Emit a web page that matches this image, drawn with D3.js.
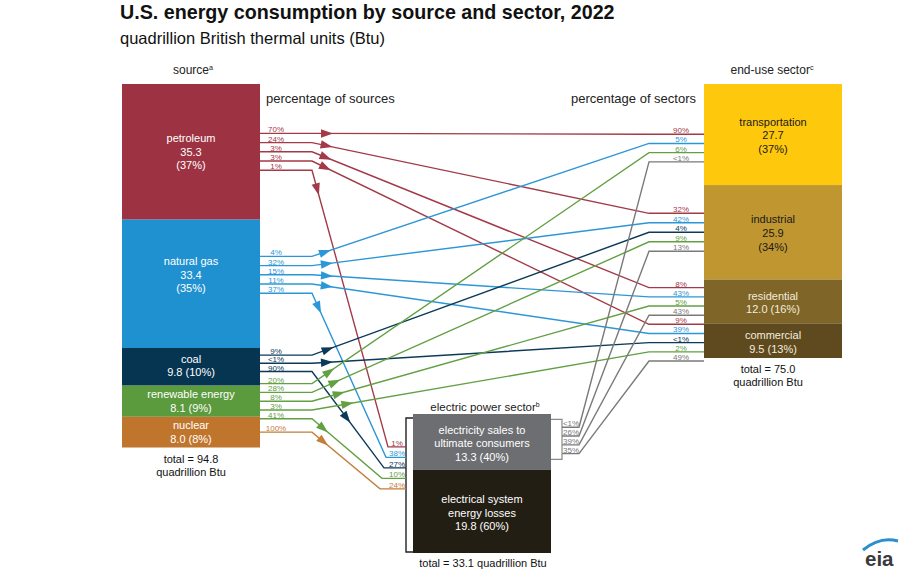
<!DOCTYPE html>
<html><head><meta charset="utf-8">
<script src="https://cdn.jsdelivr.net/npm/d3@7"></script>
<style>body{margin:0;background:#fff} svg{display:block} text{font-family:"Liberation Sans",Arial,Helvetica,sans-serif}</style>
</head><body><svg id="c" width="901" height="570"></svg>
<script>
// ---------------- data ----------------
const sources = ["petroleum","natural gas","coal","renewable energy","nuclear"];
const sourceValues = [35.3, 33.4, 9.8, 8.1, 8.0];
const sourceShares = ["37%","35%","10%","9%","8%"];
const sourceTotal = 94.8;

const sectors = ["transportation","industrial","residential","commercial"];
const sectorValues = [27.7, 25.9, 12.0, 9.5];
const sectorShares = ["37%","34%","16%","13%"];
const sectorTotal = 75.0;

const electricParts = [["electricity sales to","ultimate consumers"],["electrical system","energy losses"]];
const electricValues = [13.3, 19.8];
const electricShares = ["40%","60%"];
const electricTotal = 33.1;

// flows from primary sources
const flowFrom = ["petroleum","petroleum","petroleum","petroleum","petroleum",
  "natural gas","natural gas","natural gas","natural gas","natural gas",
  "coal","coal","coal",
  "renewable energy","renewable energy","renewable energy","renewable energy","renewable energy",
  "nuclear"];
const flowTo = ["transportation","industrial","residential","commercial","electric",
  "transportation","industrial","residential","commercial","electric",
  "industrial","commercial","electric",
  "transportation","industrial","residential","commercial","electric",
  "electric"];
const flowPctOfSource = ["70%","24%","3%","3%","1%","4%","32%","15%","11%","37%","9%","<1%","90%","20%","28%","8%","3%","41%","100%"];
const flowPctOfTarget = ["90%","32%","8%","9%","1%","5%","42%","43%","39%","38%","4%","<1%","27%","6%","9%","5%","2%","10%","24%"];

// electricity sales to end-use sectors
const elecTo = ["transportation","industrial","residential","commercial"];
const elecPctOfSales = ["<1%","26%","39%","35%"];
const elecPctOfSector = ["<1%","13%","43%","49%"];

// ---------------- styles ----------------
const srcColor = {"petroleum":"#9d3342","natural gas":"#1f91d0","coal":"#063552","renewable energy":"#5b9a3d","nuclear":"#c0752d"};
const lineColor = {"petroleum":"#a23a48","natural gas":"#2c97d6","coal":"#0b3a58","renewable energy":"#62a043","nuclear":"#c47d3c","electric":"#7a7a7a"};
const secColor = {"transportation":"#fec80d","industrial":"#c09630","residential":"#806529","commercial":"#5f4a1f"};
const secText = {"transportation":"#1a1a1a","industrial":"#1a1a1a","residential":"#f2ecdc","commercial":"#f2ecdc"};
const elecColor = ["#6d6e71","#231e14"];
const textNudge = {"natural gas":-9, "coal":-1.5};
const lineNudge = {"natural gas":-9,"coal":-3.5,"transportation":13.5,"commercial":2};
const arrowOffset = [15,15,15,15,20, 14,15,15,15,16, 17,15,58, 21,25,28,36,15, 15];

const svg = d3.select("#c");
const col = d3.scalePoint().domain(["source","electric","sector"]).range([122,704]);
const boxW = 138;
const ySrc = d3.scaleLinear().domain([0, d3.sum(sourceValues)]).range([84, 447.5]);
const ySec = d3.scaleLinear().domain([0, d3.sum(sectorValues)]).range([84, 358]);
const yEl  = d3.scaleLinear().domain([0, d3.sum(electricValues)]).range([414, 553]);
function stack(v){let c=0;return v.map(d=>{const s=c;c+=d;return [s,c];});}

const xS = col("source"), xE = col("electric"), xT = col("sector");
const bendL = xS + boxW + 52, bendR = xT - 55;

// ---------------- titles ----------------
svg.append("text").attr("x",120).attr("y",19).attr("font-size",19.7).attr("font-weight","bold").attr("fill","#111")
  .text("U.S. energy consumption by source and sector, 2022");
svg.append("text").attr("x",120).attr("y",44).attr("font-size",16.5).attr("fill","#111")
  .text("quadrillion British thermal units (Btu)");

function header(x,y,txt,sup,size){
  const t = svg.append("text").attr("x",x).attr("y",y).attr("font-size",size).attr("fill","#222").attr("text-anchor","middle");
  t.append("tspan").text(txt);
  t.append("tspan").attr("font-size",size*0.6).attr("dy",-4).text(sup);
}
header(xS+boxW/2+2, 74, "source","a",12);
header(xT+boxW/2-1, 74, "end-use sector","c",12);
header(xE+boxW/2+3, 411, "electric power sector","b",11.5);
svg.append("text").attr("x",266).attr("y",103).attr("font-size",13).attr("fill","#222").text("percentage of sources");
svg.append("text").attr("x",571).attr("y",103).attr("font-size",13).attr("fill","#222").text("percentage of sectors");

function multiline(x,cy,lines,fill,size,lh){
  const n = lines.length;
  lines.forEach((s,j)=>{
    svg.append("text").attr("x",x).attr("y",cy+(j-(n-1)/2)*lh).attr("dy","0.36em")
      .attr("text-anchor","middle").attr("font-size",size).attr("fill",fill).text(s);
  });
}

// ---------------- nodes ----------------
const srcPos = {};
stack(sourceValues).forEach(([a,b],i)=>{
  const name = sources[i], y0=ySrc(a), y1=ySrc(b);
  svg.append("rect").attr("x",xS).attr("y",y0).attr("width",boxW).attr("height",y1-y0).attr("fill",srcColor[name]);
  const cy = (y0+y1)/2 + (textNudge[name]||0);
  const v = sourceValues[i].toFixed(1);
  const lines = (y1-y0)>60 ? [name, v, "("+sourceShares[i]+")"] : [name, v+" ("+sourceShares[i]+")"];
  multiline(xS+boxW/2, cy, lines, "#fff", 11, 13.5);
  srcPos[name] = (y0+y1)/2 + (lineNudge[name]||0);
});
multiline(xS+boxW/2, 465.5, ["total = "+sourceTotal.toFixed(1), "quadrillion Btu"], "#111", 11, 13);

const secPos = {};
stack(sectorValues).forEach(([a,b],i)=>{
  const name = sectors[i], y0=ySec(a), y1=ySec(b);
  svg.append("rect").attr("x",xT).attr("y",y0).attr("width",boxW).attr("height",y1-y0).attr("fill",secColor[name]);
  const v = sectorValues[i].toFixed(1);
  const lines = (y1-y0)>60 ? [name, v, "("+sectorShares[i]+")"] : [name, v+" ("+sectorShares[i]+")"];
  multiline(xT+boxW/2, (y0+y1)/2+1, lines, secText[name], 11, 13.8);
  secPos[name] = (y0+y1)/2 + (lineNudge[name]||0);
});
multiline(xT+boxW/2-5, 376, ["total = "+sectorTotal.toFixed(1), "quadrillion Btu"], "#111", 11, 13);

const elStack = stack(electricValues);
elStack.forEach(([a,b],i)=>{
  const y0=yEl(a), y1=yEl(b);
  svg.append("rect").attr("x",xE).attr("y",y0).attr("width",boxW).attr("height",y1-y0).attr("fill",elecColor[i]);
  multiline(xE+boxW/2, (y0+y1)/2+1.5, [...electricParts[i], electricValues[i].toFixed(1)+" ("+electricShares[i]+")"], "#fff", 11, 13.5);
});
svg.append("text").attr("x",xE+boxW/2+1).attr("y",567).attr("text-anchor","middle").attr("font-size",11).attr("fill","#111")
  .text("total = "+electricTotal.toFixed(1)+" quadrillion Btu");

// brackets
const brL = xE-7;
svg.append("path").attr("d",`M${xE},${yEl(0)+4}H${brL}V${yEl(d3.sum(electricValues))-1}H${xE}`)
  .attr("fill","none").attr("stroke","#222").attr("stroke-width",1.4);
const salesMid = (yEl(elStack[0][0])+yEl(elStack[0][1]))/2 - 1.5;
const brR = xE+boxW+11;
svg.append("path").attr("d",`M${xE+boxW},${salesMid-21}H${brR}V${salesMid+19}H${xE+boxW}`)
  .attr("fill","none").attr("stroke","#8a8a8a").attr("stroke-width",1.2);

// ---------------- flows ----------------
const sp = 9.2;
const srcSpacing = {"coal":8.2,"renewable energy":8.8};
const srcCount = {}, srcIdx = [];
flowFrom.forEach(s=>{srcIdx.push(srcCount[s]||0); srcCount[s]=(srcCount[s]||0)+1;});
const tgtList = {};
flowTo.forEach((t,i)=>{(tgtList[t]=tgtList[t]||[]).push("f"+i);});
elecTo.forEach((t,i)=>{(tgtList[t]=tgtList[t]||[]).push("e"+i);});
function tgtY(t,key){
  const L = tgtList[t], k=L.indexOf(key), n=L.length;
  if(t==="electric"){ const c = yEl(elStack[0][1])-2; return c+(k-(n-1)/2)*10.5; }
  return secPos[t]+(k-(n-1)/2)*(t==="industrial"?9.5:sp);
}

const gFlow = svg.append("g").attr("fill","none").attr("stroke-width",1.4);
const gLab = svg.append("g");
function label(x,y,txt,color){
  gLab.append("text").attr("x",x).attr("y",y-1).attr("text-anchor","middle").attr("font-size",8).attr("fill",color).text(txt);
}
let elecK = 0;
flowFrom.forEach((s,i)=>{
  const t = flowTo[i];
  const ys = srcPos[s] + (srcIdx[i]-(srcCount[s]-1)/2)*(srcSpacing[s]||sp);
  const yt = tgtY(t,"f"+i);
  let d;
  if(t==="electric"){
    const bx = 388 - elecK*2; elecK++;
    d = `M${xS+boxW},${ys}H${bendL}L${bx},${yt}H${brL}`;
    label(397, yt, flowPctOfTarget[i], lineColor[s]);
  } else {
    d = `M${xS+boxW},${ys}H${bendL}L${bendR},${yt}H${xT}`;
    label(681, yt, flowPctOfTarget[i], lineColor[s]);
  }
  const p = gFlow.append("path").attr("d",d).attr("stroke",lineColor[s]);
  label(276, ys, flowPctOfSource[i], lineColor[s]);
  const node = p.node();
  const along = (bendL-(xS+boxW)) + arrowOffset[i];
  const a = node.getPointAtLength(along), b = node.getPointAtLength(along-2);
  const ang = Math.atan2(a.y-b.y, a.x-b.x)*180/Math.PI;
  svg.append("path").attr("d","M6,0L-6,-4.2L-6,4.2Z").attr("fill",lineColor[s])
    .attr("transform",`translate(${a.x},${a.y}) rotate(${ang})`);
});

elecTo.forEach((t,i)=>{
  const ys = salesMid + (i-(elecTo.length-1)/2)*8.8;
  const yt = tgtY(t,"e"+i);
  gFlow.append("path").attr("d",`M${brR},${ys}H${brR+17}L${bendR},${yt}H${xT}`).attr("stroke",lineColor.electric);
  label(571, ys, elecPctOfSales[i], "#7a7a7a");
  label(681, yt, elecPctOfSector[i], "#7a7a7a");
});

// ---------------- logo ----------------
svg.append("path").attr("d","M863,550 Q880,536 898,541").attr("fill","none").attr("stroke","#2a8fd0").attr("stroke-width",3);
svg.append("text").attr("x",865).attr("y",566).attr("font-size",20.5).attr("font-weight","bold").attr("fill","#3a3a3a").text("eia");
</script></body></html>
